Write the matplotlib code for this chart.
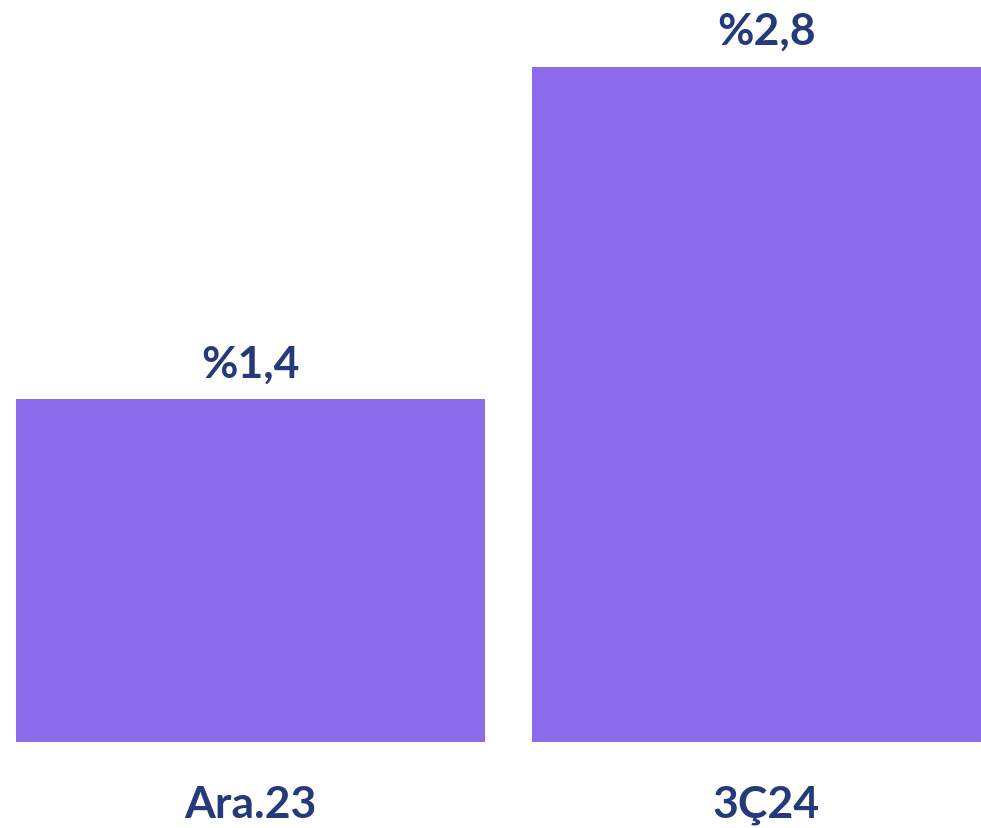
import matplotlib.pyplot as plt

# chart data
categories = ['Ara.23', '3Ç24']
values = [1.42, 2.8]
value_labels = ['%1,4', '%2,8']

bar_color = '#8B6BEC'
text_color = '#253A7A'

plt.rcParams['font.family'] = ['Lato', 'DejaVu Sans']

fig = plt.figure(figsize=(9.81, 8.29), dpi=100)
# right bar runs off the right edge of the picture, as in the original crop
ax = fig.add_axes([16/981, 86/829, 965/981, 743/829])

x = range(len(categories))
bars = ax.bar(x, values, width=0.909, color=bar_color)

ax.set_xlim(-0.4545, 1.4157)
ax.set_ylim(0, 3.08)

for i, (v, lab) in enumerate(zip(values, value_labels)):
    ax.annotate(lab, (i, v),
                xytext=(0, 26), textcoords='offset points',
                ha='center', va='center', fontsize=32, fontweight='bold',
                color=text_color, annotation_clip=False)

for i, cat in enumerate(categories):
    ax.annotate(cat, (i, 0), xytext=(0, -45), textcoords='offset points',
                ha='center', va='center', fontsize=32, fontweight='bold',
                color=text_color, annotation_clip=False)

ax.axis('off')
fig.savefig('out.png', dpi=100)
